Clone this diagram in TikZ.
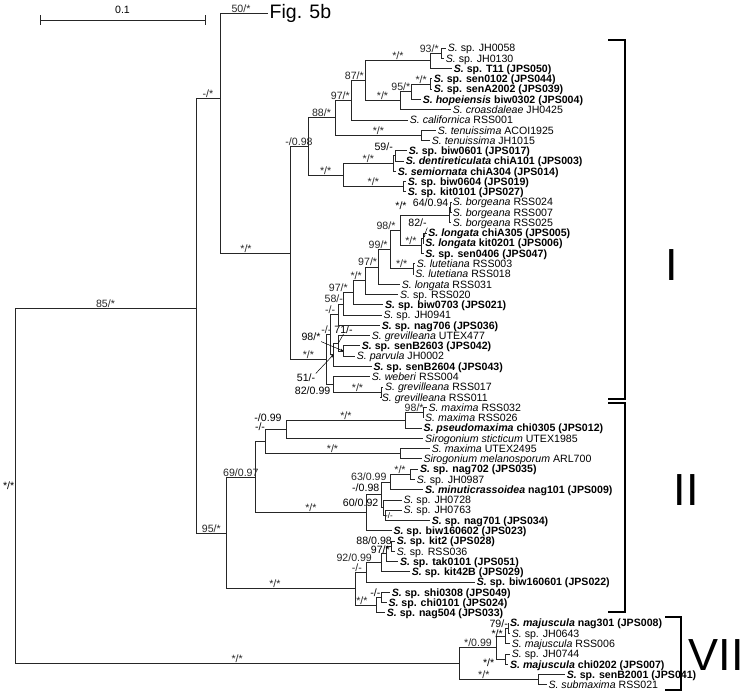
\documentclass[tikz,border=0pt]{standalone}
\usepackage{fontspec}
\setmainfont{Liberation Sans}
\usetikzlibrary{arrows.meta}

\tikzset{
  br/.style={line width=0.75pt, black!85},
  lab/.style={font=\fontsize{10.6}{11}\selectfont, inner sep=0.5pt, anchor=south, pos=0.75},
  labx/.style={font=\fontsize{10.6}{11}\selectfont, inner sep=0.5pt},
  tip/.style={font=\fontsize{10.6}{11}\selectfont, anchor=west, inner xsep=1.6pt, inner ysep=0pt, text height=7.6pt, text depth=0pt},
  tipb/.style={tip, font=\fontsize{10.6}{11}\selectfont\bfseries},
  pointer/.style={line width=0.5pt, -{Stealth[length=3pt,width=2.4pt]}},
  clade/.style={line width=1.2pt},
  cladename/.style={font=\fontsize{45}{45}\selectfont, inner sep=0pt}
}

\begin{document}
\begin{tikzpicture}[x=1pt,y=-1pt]
\useasboundingbox (0,0) rectangle (746,694);

% scale bar
\coordinate (sbl) at (40,20);
\coordinate (sbr) at (205,20);
\draw[br] (sbl) -- (sbr);
\draw[br] (40,15) -- (40,25);
\draw[br] (205,15) -- (205,25);
\node[labx, anchor=south] (sbt) at (122.5,14) {0.1};

% ---- internal nodes ----
\coordinate (root) at (15,485.8);
\coordinate (n85) at (196,308);
\coordinate (nX) at (220,98);
\coordinate (nY) at (290,253);
% clade I, upper part
\coordinate (nB) at (441.7,53.2);
\coordinate (nA) at (430.7,60.8);
\coordinate (nE) at (430.7,84);
\coordinate (nD) at (411.7,91.7);
\coordinate (nC) at (400,100.5);
\coordinate (n87) at (365,80.7);
\coordinate (n97) at (351.7,100.3);
\coordinate (nTe) at (421.7,135.3);
\coordinate (n88) at (335,117.8);
\coordinate (nG1) at (395,155.8);
\coordinate (nG) at (393.3,163.5);
\coordinate (nH) at (403.3,186.7);
\coordinate (nF) at (343.3,175.1);
\coordinate (nM) at (308,146.5);
% clade I, lower part
\coordinate (nBo1) at (450.5,207.2);
\coordinate (nBo) at (449.5,214.9);
\coordinate (n82) at (423.3,238);
\coordinate (nLo) at (421.7,245.7);
\coordinate (n98b) at (400,230.3);
\coordinate (nLu) at (413.3,268.8);
\coordinate (n99) at (390,249.5);
\coordinate (n97b) at (378.3,266.9);
\coordinate (nS1) at (365,280.7);
\coordinate (n97c) at (353.3,292.7);
\coordinate (n58) at (343.3,303.9);
\coordinate (nmm1) at (338.3,314.6);
\coordinate (nP) at (343.3,351);
\coordinate (nQ) at (338.3,343.2);
\coordinate (nV) at (333.3,354.8);
\coordinate (nU) at (330,334.7);
\coordinate (nZ) at (326.7,359.5);
\coordinate (nR) at (381.7,392);
\coordinate (nW) at (333.3,384.3);
% clade II
\coordinate (n98c) at (423.3,412.6);
\coordinate (nMx) at (405,420.3);
\coordinate (n099) at (286.7,429.3);
\coordinate (nMe) at (400,453.7);
\coordinate (nmm2) at (265,441.5);
\coordinate (nN) at (410,474.2);
\coordinate (n63) at (390,481.9);
\coordinate (nK) at (385,515.3);
\coordinate (nL) at (383.3,507.6);
\coordinate (n098b) at (381.7,494.8);
\coordinate (nS2) at (366.7,512.7);
\coordinate (n69) at (255,477.1);
\coordinate (nK2) at (391.7,546);
\coordinate (nK3) at (386.7,553.8);
\coordinate (n92) at (381.7,562.7);
\coordinate (nmm3) at (366.7,572.4);
\coordinate (nSh1) at (381.7,597.4);
\coordinate (nSh) at (376.7,605.1);
\coordinate (nL2) at (355,588.8);
\coordinate (nII) at (226.7,533);
% clade VII
\coordinate (n79) at (508.3,628.2);
\coordinate (nMj) at (505,635.9);
\coordinate (nMj2) at (505,659);
\coordinate (n099v) at (496.7,647.5);
\coordinate (nSb) at (538.3,679.6);
\coordinate (nVII) at (459.3,663.5);

% ---- tips ----
\node[tip] (t1) at (446,48) {\textit{S.} sp. JH0058};
\node[tip] (t2) at (444,58.3) {\textit{S.} sp. JH0130};
\node[tipb] (t3) at (452,68.5) {\textit{S.} sp. T11 (JPS050)};
\node[tipb] (t4) at (432,78.8) {\textit{S.} sp. sen0102 (JPS044)};
\node[tipb] (t5) at (432,89.1) {\textit{S.} sp. senA2002 (JPS039)};
\node[tipb] (t6) at (421,99.4) {\textit{S. hopeiensis} biw0302 (JPS004)};
\node[tip] (t7) at (451,109.6) {\textit{S. croasdaleae} JH0425};
\node[tip] (t8) at (408,119.9) {\textit{S. californica} RSS001};
\node[tip] (t9) at (436,130.2) {\textit{S. tenuissima} ACOI1925};
\node[tip] (t10) at (430,140.4) {\textit{S. tenuissima} JH1015};
\node[tipb] (t11) at (407,150.7) {\textit{S.} sp. biw0601 (JPS017)};
\node[tipb] (t12) at (404,161) {\textit{S. dentireticulata} chiA101 (JPS003)};
\node[tipb] (t13) at (396,171.2) {\textit{S. semiornata} chiA304 (JPS014)};
\node[tipb] (t14) at (406,181.5) {\textit{S.} sp. biw0604 (JPS019)};
\node[tipb] (t15) at (406,191.8) {\textit{S.} sp. kit0101 (JPS027)};
\node[tip] (t16) at (451,202) {\textit{S. borgeana} RSS024};
\node[tip] (t17) at (451,212.3) {\textit{S. borgeana} RSS007};
\node[tip] (t18) at (451,222.6) {\textit{S. borgeana} RSS025};
\node[tipb] (t19) at (426.5,232.9) {\textit{S. longata} chiA305 (JPS005)};
\node[tipb] (t20) at (423.5,243.1) {\textit{S. longata} kit0201 (JPS006)};
\node[tipb] (t21) at (423.5,253.4) {\textit{S.} sp. sen0406 (JPS047)};
\node[tip] (t22) at (415,263.7) {\textit{S. lutetiana} RSS003};
\node[tip] (t23) at (413.5,273.9) {\textit{S. lutetiana} RSS018};
\node[tip] (t24) at (400,284.2) {\textit{S. longata} RSS031};
\node[tip] (t25) at (398.3,294.5) {\textit{S.} sp. RSS020};
\node[tipb] (t26) at (383.3,304.7) {\textit{S.} sp. biw0703 (JPS021)};
\node[tip] (t27) at (381.7,315) {\textit{S.} sp. JH0941};
\node[tipb] (t28) at (380,325.3) {\textit{S.} sp. nag706 (JPS036)};
\node[tip] (t29) at (370,335.5) {\textit{S. grevilleana} UTEX477};
\node[tipb] (t30) at (360,345.8) {\textit{S.} sp. senB2603 (JPS042)};
\node[tip] (t31) at (355,356.1) {\textit{S. parvula} JH0002};
\node[tipb] (t32) at (371.7,366.4) {\textit{S.} sp. senB2604 (JPS043)};
\node[tip] (t33) at (370,376.6) {\textit{S. weberi} RSS004};
\node[tip] (t34) at (383.3,386.9) {\textit{S. grevilleana} RSS017};
\node[tip] (t35) at (380,397.2) {\textit{S. grevilleana} RSS011};
\node[tip] (t36) at (426.7,407.4) {\textit{S. maxima} RSS032};
\node[tip] (t37) at (423.3,417.7) {\textit{S. maxima} RSS026};
\node[tipb] (t38) at (421.7,428) {\textit{S. pseudomaxima} chi0305 (JPS012)};
\node[tip] (t39) at (423.3,438.2) {\textit{Sirogonium sticticum} UTEX1985};
\node[tip] (t40) at (430,448.5) {\textit{S. maxima} UTEX2495};
\node[tip] (t41) at (421.7,458.8) {\textit{Sirogonium melanosporum} ARL700};
\node[tipb] (t42) at (418.3,469.1) {\textit{S.} sp. nag702 (JPS035)};
\node[tip] (t43) at (415,479.3) {\textit{S.} sp. JH0987};
\node[tipb] (t44) at (423.3,489.6) {\textit{S. minuticrassoidea} nag101 (JPS009)};
\node[tip] (t45) at (401.7,499.9) {\textit{S.} sp. JH0728};
\node[tip] (t46) at (401.7,510.1) {\textit{S.} sp. JH0763};
\node[tipb] (t47) at (430,520.4) {\textit{S.} sp. nag701 (JPS034)};
\node[tipb] (t48) at (391.7,530.7) {\textit{S.} sp. biw160602 (JPS023)};
\node[tipb] (t49) at (395,540.9) {\textit{S.} sp. kit2 (JPS028)};
\node[tip] (t50) at (395,551.2) {\textit{S.} sp. RSS036};
\node[tipb] (t51) at (398.3,561.5) {\textit{S.} sp. tak0101 (JPS051)};
\node[tipb] (t52) at (410,571.7) {\textit{S.} sp. kit42B (JPS029)};
\node[tipb] (t53) at (475,582) {\textit{S.} sp. biw160601 (JPS022)};
\node[tipb] (t54) at (390,592.3) {\textit{S.} sp. shi0308 (JPS049)};
\node[tipb] (t55) at (386.7,602.6) {\textit{S.} sp. chi0101 (JPS024)};
\node[tipb] (t56) at (385,612.8) {\textit{S.} sp. nag504 (JPS033)};
\node[tipb] (t57) at (508.3,623.1) {\textit{S. majuscula} nag301 (JPS008)};
\node[tip] (t58) at (510,633.4) {\textit{S.} sp. JH0643};
\node[tip] (t59) at (510,643.6) {\textit{S. majuscula} RSS006};
\node[tip] (t60) at (510,653.9) {\textit{S.} sp. JH0744};
\node[tipb] (t61) at (508.3,664.2) {\textit{S. majuscula} chi0202 (JPS007)};
\node[tipb] (t62) at (565,674.4) {\textit{S.} sp. senB2001 (JPS041)};
\node[tip] (t63) at (546.7,684.7) {\textit{S. submaxima} RSS021};
\node[anchor=west, inner sep=1.5pt, font=\fontsize{19.5}{19.5}\selectfont] (fig5b) at (268,13) {Fig. 5b};

% ---- branches ----
\draw[br] (root) |- node[lab]{85/*} (n85);
\draw[br] (root) |- node[lab]{*/*} (nVII);
\node[labx, anchor=east] (lroot) at (root) {*/*};
\draw[br] (n85) |- node[lab]{-/*} (nX);
\draw[br] (n85) |- node[lab]{95/*} (nII);
\draw[br] (nX) |- node[lab, xshift=-3pt]{50/*} (fig5b.west);
\draw[br] (nX) |- node[lab, xshift=-9pt]{*/*} (nY);
\draw[br] (nY) |- node[lab]{-/0.98} (nM);
\draw[br] (nY) |- node[lab]{*/*} (nZ);
% clade I, upper part
\draw[br] (nM) |- node[lab]{88/*} (n88);
\draw[br] (nM) |- node[lab]{*/*} (nF);
\draw[br] (n88) |- node[lab, xshift=-3pt]{97/*} (n97);
\draw[br] (n88) |- node[lab]{*/*} (nTe);
\draw[br] (n97) |- node[lab, xshift=-4pt]{87/*} (n87);
\draw[br] (n97) |- (t8.west);
\draw[br] (n87) |- node[lab]{*/*} (nA);
\draw[br] (n87) |- node[lab]{*/*} (nC);
\draw[br] (nA) |- node[lab, xshift=-7pt]{93/*} (nB);
\draw[br] (nA) |- (t3.west);
\draw[br] (nB) |- (t1.west);
\draw[br] (nB) |- (t2.west);
\draw[br] (nC) |- node[lab, xshift=-5pt]{95/*} (nD);
\draw[br] (nC) |- (t7.west);
\draw[br] (nD) |- node[lab]{*/*} (nE);
\draw[br] (nD) |- (t6.west);
\draw[br] (nE) |- (t4.west);
\draw[br] (nE) |- (t5.west);
\draw[br] (nTe) |- (t9.west);
\draw[br] (nTe) |- (t10.west);
\draw[br] (nF) |- node[lab]{*/*} (nG);
\draw[br] (nF) |- node[lab]{*/*} (nH);
\draw[br] (nG) |- (nG1);
\draw[br] (nG) |- (t13.west);
\node[labx, anchor=south east] (l59) at (393.5,151.5) {59/-};
\draw[br] (nG1) |- (t11.west);
\draw[br] (nG1) |- (t12.west);
\draw[br] (nH) |- (t14.west);
\draw[br] (nH) |- (t15.west);
% clade I, lower part
\draw[br] (nZ) |- node[labx, anchor=south, pos=0.75, xshift=-2pt]{-/-} (nU);
\draw[br] (nZ) |- (nW);
\node[labx, anchor=east] (l8299) at (331,391) {82/0.99};
\draw[br] (nW) |- (t33.west);
\draw[br] (nW) |- node[lab]{*/*} (nR);
\draw[br] (nR) |- (t34.west);
\draw[br] (nR) |- (t35.west);
\draw[br] (nU) |- node[lab, xshift=-4pt]{-/-} (nmm1);
\draw[br] (nU) |- (nV);
\draw[br] (nV) |- (nQ);
\draw[br] (nV) |- (t32.west);
\draw[br] (nQ) |- (t29.west);
\draw[br] (nQ) |- (nP);
\draw[br] (nP) |- (t30.west);
\draw[br] (nP) |- (t31.west);
\node[labx, anchor=south] (l71) at (343.5,334) {71/-};
\draw[line width=0.5pt] (l71.south) -- (nQ);
\node[labx] (l98d) at (311,337) {98/*};
\draw[pointer] (l98d.south east) -- (nP);
\node[labx] (l51) at (306,378) {51/-};
\draw[pointer] (l51.north east) -- (nV);
\draw[br] (nmm1) |- node[lab, xshift=-7pt]{58/-} (n58);
\draw[br] (nmm1) |- (t28.west);
\draw[br] (n58) |- node[lab, xshift=-10pt]{97/*} (n97c);
\draw[br] (n58) |- (t27.west);
\draw[br] (n97c) |- node[lab, xshift=-3pt]{*/*} (nS1);
\draw[br] (n97c) |- (t26.west);
\draw[br] (nS1) |- node[lab, xshift=-4pt]{97/*} (n97b);
\draw[br] (nS1) |- (t25.west);
\draw[br] (n97b) |- node[lab, xshift=-6pt]{99/*} (n99);
\draw[br] (n97b) |- (t24.west);
\draw[br] (n99) |- node[lab, xshift=-9pt]{98/*} (n98b);
\draw[br] (n99) |- node[lab]{*/*} (nLu);
\draw[br] (nLu) |- (t22.west);
\draw[br] (nLu) |- (t23.west);
\draw[br] (n98b) |- (nBo);
\node[labx, anchor=south] (lbo) at (401,210.5) {*/*};
\draw[br] (n98b) |- node[lab]{*/*} (nLo);
\draw[br] (nBo) |- (nBo1);
\draw[br] (nBo) |- (t18.west);
\draw[br] (nBo1) |- (t16.west);
\draw[br] (nBo1) |- (t17.west);
\node[labx, anchor=south east] (l64) at (449,207) {64/0.94};
\draw[br] (nLo) |- (n82);
\draw[br] (nLo) |- (t21.west);
\draw[br] (n82) |- (t19.west);
\draw[br] (n82) |- (t20.west);
\node[labx] (l82) at (417.5,223) {82/-};
\draw[pointer] (l82.south east) -- (n82);
% clade II
\draw[br] (nII) |- node[lab]{69/0.97} (n69);
\draw[br] (nII) |- node[lab, xshift=-16pt]{*/*} (nL2);
\draw[br] (n69) |- (nmm2);
\node[labx, anchor=north, inner sep=0pt] (lmm2) at (260,423) {-/-};
\draw[br] (n69) |- node[lab]{*/*} (nS2);
\draw[br] (nmm2) |- (n099);
\node[labx, anchor=south, inner sep=0pt] (l099) at (268,421.5) {-/0.99};
\draw[br] (nmm2) |- node[lab]{*/*} (nMe);
\draw[br] (n099) |- node[lab]{*/*} (nMx);
\draw[br] (n099) |- (t39.west);
\draw[br] (nMx) |- node[lab]{98/*} (n98c);
\draw[br] (nMx) |- (t38.west);
\draw[br] (n98c) |- (t36.west);
\draw[br] (n98c) |- (t37.west);
\draw[br] (nMe) |- (t40.west);
\draw[br] (nMe) |- (t41.west);
\draw[br] (nS2) |- (n098b);
\node[labx, anchor=south east] (l098) at (380,492) {-/0.98};
\draw[br] (nS2) |- (t48.west);
\draw[br] (n098b) |- node[lab, xshift=-17pt]{63/0.99} (n63);
\draw[br] (n098b) |- (nL);
\node[labx, anchor=south east] (l6092) at (379,507.5) {60/0.92};
\draw[br] (n63) |- node[lab]{*/*} (nN);
\draw[br] (n63) |- (t44.west);
\draw[br] (nN) |- (t42.west);
\draw[br] (nN) |- (t43.west);
\draw[br] (nL) |- (t45.west);
\draw[br] (nL) |- (nK);
\draw[br] (nK) |- (t46.west);
\draw[br] (nK) |- (t47.west);
\node[labx, anchor=north, font=\fontsize{8}{8}\selectfont] (lK) at (389,511.5) {-/-};
\draw[br] (nL2) |- node[lab, xshift=-4pt]{-/-} (nmm3);
\draw[br] (nL2) |- node[lab, xshift=-4pt]{*/*} (nSh);
\draw[br] (nmm3) |- node[lab, xshift=-20pt]{92/0.99} (n92);
\draw[br] (nmm3) |- (t53.west);
\draw[br] (n92) |- (nK3);
\draw[br] (n92) |- (t52.west);
\draw[br] (nK3) |- (nK2);
\draw[br] (nK3) |- (t51.west);
\node[labx, anchor=north east, inner sep=0pt] (l97k) at (390,546) {97/*};
\draw[br] (nK2) |- (t49.west);
\draw[br] (nK2) |- (t50.west);
\node[labx, anchor=south east, inner sep=0pt] (l88k) at (392,545) {88/0.98};
\draw[br] (nSh) |- (nSh1);
\draw[br] (nSh) |- (t56.west);
\node[labx, anchor=south east] (lsh) at (381,597) {-/-};
\draw[br] (nSh1) |- (t54.west);
\draw[br] (nSh1) |- (t55.west);
% clade VII
\draw[br] (nVII) |- node[lab]{*/0.99} (n099v);
\draw[br] (nVII) |- node[lab, xshift=-15pt]{*/*} (nSb);
\draw[br] (n099v) |- (nMj);
\node[labx, anchor=north east, inner sep=0pt] (lmj) at (503,629.5) {*/*};
\draw[br] (n099v) |- (nMj2);
\node[labx, anchor=north east] (lmj2) at (495,658) {*/*};
\draw[br] (nMj) |- (n79);
\node[labx, anchor=south east, inner sep=0pt] (l79) at (508,627.5) {79/-};
\draw[br] (nMj) |- (t59.west);
\draw[br] (n79) |- (t57.west);
\draw[br] (n79) |- (t58.west);
\draw[br] (nMj2) |- (t60.west);
\draw[br] (nMj2) |- (t61.west);
\draw[br] (nSb) |- (t62.west);
\draw[br] (nSb) |- (t63.west);

% ---- clade brackets ----
\draw[clade] (608,40) -- (625,40) -- (625,399) -- (608,399);
\node[cladename] (cI) at (672,265) {I};
\draw[clade] (608,403) -- (625,403) -- (625,612) -- (608,612);
\node[cladename] (cII) at (686,490) {II};
\draw[clade] (665,617) -- (681,617) -- (681,690) -- (665,690);
\node[cladename] (cVII) at (716,655) {VII};

\end{tikzpicture}
\end{document}
